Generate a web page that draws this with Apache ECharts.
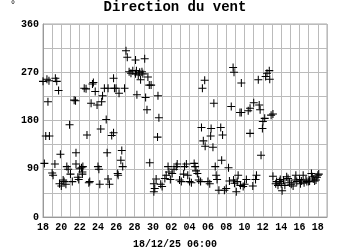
<!DOCTYPE html>
<html>
<head>
<meta charset="utf-8">
<script src="https://cdn.jsdelivr.net/npm/echarts@6/dist/echarts.min.js"></script>
<style>html,body{margin:0;padding:0;background:#fff}#c{width:350px;height:250px}</style>
</head>
<body>
<div id="c"></div>
<script>
// day offset from 18 Nov (0) .. 19 Dec (31)
const dayPos = [
0.0,0.15,0.3,0.43,0.54,0.65,0.7,1.0,1.1,1.3,1.35,1.5,1.7,1.8,1.9,2.0,2.2,2.3,2.5,2.6,2.75,2.9,3.0,3.2,3.4,3.55,3.6,3.6,3.8,3.9,
4.0,4.2,4.3,4.3,4.35,4.5,4.7,4.8,5.0,5.1,5.25,5.4,5.5,5.7,5.9,6.0,6.1,6.2,6.3,6.4,6.5,6.7,6.9,7.0,7.1,7.1,7.25,7.5,7.7,7.7,
7.8,7.97,8.15,8.2,8.3,8.5,8.6,8.7,8.9,9.06,9.2,9.4,9.6,9.8,10.1,10.1,10.2,10.25,10.4,10.55,10.65,10.8,10.9,11.1,11.2,11.35,11.45,11.6,11.65,11.8,
12.1,12.1,12.2,12.35,12.5,12.55,12.65,12.85,13.0,13.3,13.45,13.65,13.75,13.9,14.1,14.3,14.55,14.65,14.9,15.1,15.35,15.45,15.65,15.8,16.0,16.2,16.5,16.6,16.7,16.85,
17.0,17.2,17.3,17.4,17.5,17.65,17.7,18.0,18.2,18.3,18.35,18.55,18.65,18.8,18.9,19.0,19.2,19.4,19.5,19.6,19.8,20.0,20.25,20.35,20.55,20.75,20.85,20.8,20.9,21.1,
21.2,21.3,21.5,21.55,21.65,21.65,21.85,22.0,22.2,22.4,22.6,22.6,22.9,23.0,23.2,23.3,23.5,23.6,23.7,23.8,23.95,24.0,24.2,24.3,24.45,24.7,24.75,24.9,25.1,25.1,
25.4,25.5,25.65,25.8,25.9,26.0,26.1,26.25,26.4,26.6,26.75,26.9,27.1,27.3,27.5,27.6,27.7,28.0,28.1,28.2,28.4,28.5,28.7,28.8,29.0,29.1,29.3,29.4,29.5,29.65,
29.8,29.9,30.0,30.1
];
const direction = [
253,100,151,257,215,254,151,82,78,99,259,253,236,62,117,58,69,66,61,94,89,172,80,66,218,217,120,99,74,70,
90,92,84,80,94,240,239,153,64,66,212,248,251,234,209,94,89,61,164,215,226,240,182,120,240,71,61,152,259,157,
240,240,81,78,231,106,124,94,240,310,298,271,268,273,293,267,273,228,265,270,256,271,267,295,223,200,261,246,101,246,
62,47,53,71,149,226,185,61,57,72,78,94,84,70,81,89,94,99,69,66,80,94,99,78,66,64,100,94,86,81,
69,66,167,240,142,255,132,66,62,151,165,130,212,94,78,70,50,167,106,153,50,53,92,67,206,279,270,69,63,47,
66,78,195,59,195,250,57,61,70,198,203,156,58,213,70,78,256,209,200,115,165,178,184,262,268,273,257,190,192,76,
62,66,59,66,70,62,49,69,59,75,72,64,61,58,69,78,66,70,62,67,78,64,69,66,66,67,81,75,71,67,
69,74,78,80
];
const xTickLabels = ['18','20','22','24','26','28','30','02','04','06','08','10','12','14','16','18'];
const yTickLabels = [0, 90, 180, 270, 360];
const titleText = 'Direction du vent';
const unitText = '°';
const dateText = '18/12/25 06:00';

const pts = dayPos.map((d, i) => [d, direction[i]]);
const mono = '"Liberation Mono", "DejaVu Sans Mono", monospace';
const chart = echarts.init(document.getElementById('c'), null, {renderer: 'canvas'});
chart.setOption({
  animation: false,
  backgroundColor: '#fff',
  title: [
    {text: titleText, left: 'center', top: 0, padding: 0,
     textStyle: {fontFamily: mono, fontSize: 14, fontWeight: 'bold', color: '#000'}},
    {text: unitText, left: 10, top: 0, padding: 0,
     textStyle: {fontFamily: mono, fontSize: 10, fontWeight: 'normal', color: '#000'}},
    {text: dateText, left: 'center', top: 239, padding: 0,
     textStyle: {fontFamily: mono, fontSize: 10, fontWeight: 'bold', color: '#000'}}
  ],
  grid: {left: 43, right: 23, top: 24, bottom: 33, show: true, borderColor: '#aaa', borderWidth: 1},
  xAxis: {
    type: 'value', min: 0, max: 31, interval: 1,
    axisLine: {show: true, lineStyle: {color: '#999'}},
    axisTick: {show: false},
    splitLine: {show: true, lineStyle: {color: '#bbb', width: 1}},
    axisLabel: {
      margin: 5, fontFamily: mono, fontSize: 10, fontWeight: 'bold', color: '#000',
      showMinLabel: true, showMaxLabel: true,
      formatter: v => (v % 2 === 0 && v / 2 < xTickLabels.length) ? xTickLabels[v / 2] : ''
    }
  },
  yAxis: {
    type: 'value', min: 0, max: 360, interval: 45,
    axisLine: {show: true, lineStyle: {color: '#999'}},
    axisTick: {show: false},
    splitLine: {show: true, lineStyle: {color: '#bbb', width: 1}},
    axisLabel: {
      margin: 4, fontFamily: mono, fontSize: 10, fontWeight: 'bold', color: '#000',
      formatter: v => yTickLabels.indexOf(v) >= 0 ? String(v) : ''
    }
  },
  series: [{
    type: 'scatter',
    data: pts,
    symbol: 'path://M-0.13,-1H0.13V-0.13H1V0.13H0.13V1H-0.13V0.13H-1V-0.13H-0.13Z',
    symbolSize: 8,
    itemStyle: {color: '#000', opacity: 1}
  }]
});
</script>
</body>
</html>
